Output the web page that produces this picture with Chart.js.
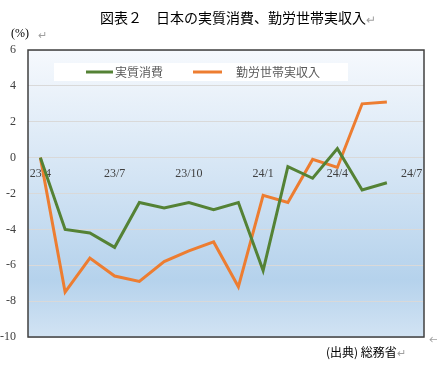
<!DOCTYPE html>
<html>
<head>
<meta charset="utf-8">
<script src="https://cdn.jsdelivr.net/npm/chart.js@4"></script>
<style>
  html, body { margin: 0; padding: 0; background: #ffffff; }
  #wrap { width: 437px; height: 365px; }
</style>
</head>
<body>
<div id="wrap"><canvas id="chart"></canvas></div>
<script>
const months = ["23/4", "23/5", "23/6", "23/7", "23/8", "23/9", "23/10", "23/11", "23/12",
                "24/1", "24/2", "24/3", "24/4", "24/5", "24/6", "24/7"];
const consumption = [0, -4.0, -4.2, -5.0, -2.5, -2.8, -2.5, -2.9, -2.5, -6.3, -0.5, -1.15, 0.5, -1.8, -1.4, null];
const income = [0, -7.5, -5.6, -6.6, -6.9, -5.8, -5.2, -4.7, -7.2, -2.1, -2.5, -0.1, -0.55, 3.0, 3.1, null];
const yTicks = [6, 4, 2, 0, -2, -4, -6, -8, -10];

const titleText = "図表２　日本の実質消費、勤労世帯実収入";
const unitText = "(%)";
const sourceText = "(出典) 総務省";

const jpFont = '"Noto Sans CJK JP", "Noto Sans", sans-serif';
const numFont = '"Liberation Serif", "DejaVu Serif", serif';

// background gradient + frame + texts + legend
const decor = {
    id: "decor",
    beforeDraw(chart) {
        const { ctx, chartArea: a } = chart;
        const g = ctx.createLinearGradient(0, a.top, 0, a.bottom);
        g.addColorStop(0, "#f6f9fd");
        g.addColorStop(0.45, "#d3e4f4");
        g.addColorStop(0.8, "#b5d2ec");
        g.addColorStop(1, "#d2e3f3");
        ctx.save();
        ctx.fillStyle = g;
        ctx.fillRect(a.left, a.top, a.right - a.left, a.bottom - a.top);
        ctx.restore();
    },
    afterDraw(chart) {
        const { ctx, chartArea: a } = chart;
        ctx.save();
        ctx.strokeStyle = "#404040";
        ctx.lineWidth = 1.5;
        ctx.strokeRect(a.left, a.top, a.right - a.left, a.bottom - a.top);

        ctx.textBaseline = "middle";
        ctx.fillStyle = "#000000";
        ctx.font = "14px " + jpFont;
        ctx.textAlign = "left";
        ctx.fillText(titleText, 100, 18);
        let w = ctx.measureText(titleText).width;
        ctx.fillStyle = "#a0a0a0";
        ctx.font = "12px " + jpFont;
        ctx.fillText("↵", 100 + w, 19);

        ctx.fillStyle = "#000000";
        ctx.font = "12px " + numFont;
        ctx.fillText(unitText, 11, 34);
        ctx.fillStyle = "#a0a0a0";
        ctx.font = "11px " + jpFont;
        ctx.fillText("↵", 38, 35);

        ctx.fillStyle = "#000000";
        ctx.font = "12px " + jpFont;
        ctx.fillText(sourceText, 326, 352);
        w = ctx.measureText(sourceText).width;
        ctx.fillStyle = "#a0a0a0";
        ctx.font = "11px " + jpFont;
        ctx.fillText("↵", 326 + w, 353);
        ctx.fillText("←", 429, 340);

        // legend box
        ctx.fillStyle = "#ffffff";
        ctx.fillRect(54, 63, 294, 18);
        const items = [
            { x1: 86, x2: 113, tx: 115 },
            { x1: 193, x2: 222, tx: 236 }
        ];
        chart.data.datasets.forEach((ds, i) => {
            const it = items[i];
            ctx.strokeStyle = ds.borderColor;
            ctx.lineWidth = 3;
            ctx.beginPath();
            ctx.moveTo(it.x1, 72);
            ctx.lineTo(it.x2, 72);
            ctx.stroke();
            ctx.fillStyle = "#595959";
            ctx.font = "12px " + jpFont;
            ctx.textAlign = "left";
            ctx.fillText(ds.label, it.tx, 72);
        });
        ctx.restore();
    }
};

new Chart(document.getElementById("chart"), {
    type: "line",
    data: {
        labels: months,
        datasets: [
            {
                label: "実質消費",
                data: consumption,
                borderColor: "#548235",
                borderWidth: 3,
                pointRadius: 0,
                tension: 0,
                spanGaps: false
            },
            {
                label: "勤労世帯実収入",
                data: income,
                borderColor: "#ed7d31",
                borderWidth: 3,
                pointRadius: 0,
                tension: 0,
                spanGaps: false
            }
        ]
    },
    options: {
        responsive: true,
        maintainAspectRatio: false,
        animation: false,
        layout: { padding: { top: 50, left: 0, right: 13, bottom: 28 } },
        plugins: {
            legend: { display: false },
            tooltip: { enabled: false }
        },
        scales: {
            x: {
                position: { y: 0 },
                offset: true,
                border: { display: false },
                grid: {
                    offset: true,
                    drawOnChartArea: false,
                    drawTicks: false
                },
                ticks: {
                    autoSkip: false,
                    maxRotation: 0,
                    padding: 9,
                    color: "#404040",
                    font: { family: numFont, size: 12 },
                    callback: function (val, i) {
                        return i % 3 === 0 ? months[i] : "";
                    }
                }
            },
            y: {
                min: -10,
                max: 6,
                afterFit(scale) { scale.width = 28; },
                afterBuildTicks(scale) {
                    scale.ticks = yTicks.map(v => ({ value: v }));
                },
                border: { display: false },
                grid: { color: "#d9d9d9", drawTicks: false },
                ticks: {
                    padding: 12,
                    color: "#404040",
                    font: { family: numFont, size: 12 }
                }
            }
        }
    },
    plugins: [decor]
});
</script>
</body>
</html>
